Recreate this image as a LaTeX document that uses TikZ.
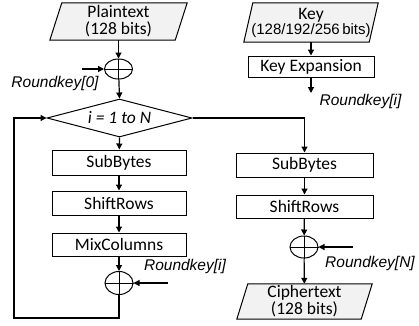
\documentclass[tikz,border=0pt]{standalone}
\usepackage{fontspec}
\setmainfont{Carlito}
\newfontfamily\arialf{Liberation Sans}
\usetikzlibrary{arrows.meta,shapes.geometric,backgrounds}
\newcommand\paradraw[2]{\draw[line width=1pt, fill=gray!10] ([xshift=#2]#1.north west) -- (#1.north east) -- ([xshift=-#2]#1.south east) -- (#1.south west) -- cycle;}
\newcommand\subtxt{\arialf\fontsize{15}{15}\selectfont}
\begin{document}
\begin{tikzpicture}[x=1pt,y=-1pt,
  txt/.style={font=\fontsize{17.5}{17}\selectfont},
  box/.style={txt, draw, line width=1pt, minimum width=134pt, minimum height=24pt, inner sep=0pt},
  io/.style={txt, inner sep=0pt, align=center, minimum height=37pt},
  xor/.style={ellipse, draw, line width=1pt, minimum width=28pt, minimum height=22pt, inner sep=0pt},
  arr/.style={line width=1.2pt, -{Triangle[length=6pt,width=6pt]}},
  rk/.style={font=\arialf\itshape\fontsize{15.5}{16}\selectfont, inner sep=0pt}
]
\useasboundingbox (0,0) rectangle (419,325);
% left column
\node[io, minimum width=137pt] (pt) at (118.5,21.5) {Plaintext\\(128 bits)};
\node[xor, minimum height=20pt] (x0) at (118.5,69) {};
\node[rk] (rk0) at (55,83) {Roundkey[0]};
\coordinate (k0) at (82,69);
\node[diamond, draw, line width=1pt, minimum width=145pt, minimum height=38pt, inner sep=0pt, aspect=3.8, txt] (dia) at (119.5,118) {\itshape i = 1 to N};
\node[box, minimum height=25pt] (sb1) at (119,162.5) {SubBytes};
\node[box] (sr1) at (119,203) {ShiftRows};
\node[box, minimum height=23pt] (mc) at (119,244.5) {MixColumns};
\node[xor, minimum height=23pt] (x1) at (119,283) {};
\node[rk] (rki) at (185,266) {Roundkey[i]};
\coordinate (k1) at (168,283);
\coordinate (lb) at (14,318);
% key column
\node[io, minimum width=134pt, minimum height=39pt] (key) at (311,22.5) {Key\\[-2pt]{\subtxt (128/192/256\,bits)}};
\node[box, minimum width=126pt, minimum height=21pt] (ke) at (311,66.5) {Key Expansion};
\coordinate (rkout) at (311,93);
\node[rk] (rkit) at (360.5,101) {Roundkey[i]};
% right column
\node[box, minimum width=137pt] (sb2) at (304.5,165) {SubBytes};
\node[box, minimum width=137pt, minimum height=23pt] (sr2) at (304.5,206.5) {ShiftRows};
\node[xor] (x2) at (304,247) {};
\coordinate (k2) at (353,247);
\node[rk] (rkN) at (370,263) {Roundkey[N]};
\node[io, minimum width=135pt, minimum height=35pt] (ct) at (304.5,301.5) {Ciphertext\\(128 bits)};
\begin{scope}[on background layer]
\paradraw{pt}{12pt}
\paradraw{key}{9pt}
\paradraw{ct}{11pt}
\end{scope}
% xor crosses
\foreach \n in {x0,x1,x2}{\draw[line width=1pt] (\n.north) -- (\n.south) (\n.west) -- (\n.east);}
% connectors
\draw[arr] (pt) -- (x0);
\draw[arr] (k0) -- (x0.west);
\draw[arr] (x0) -- (dia.north);
\draw[arr] (dia.south) -- (sb1);
\draw[arr] (sb1) -- (sr1);
\draw[arr] (sr1) -- (mc);
\draw[arr] (mc) -- (x1);
\draw[arr] (k1) -- (x1.east);
\draw[arr] (x1.south) |- (lb) |- (dia.west);
\draw[arr] (dia.east) -| (sb2.north);
\draw[arr] (sb2) -- (sr2);
\draw[arr] (sr2) -- (x2);
\draw[arr] (k2) -- (x2.east);
\draw[arr] (x2) -- (ct);
\draw[arr] (key) -- (ke);
\draw[arr] (ke) -- (rkout);
\end{tikzpicture}
\end{document}
